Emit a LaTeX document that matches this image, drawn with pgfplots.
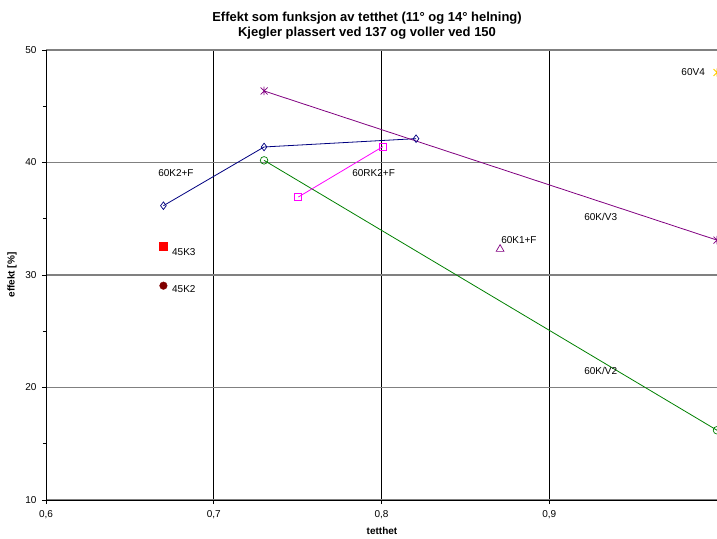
\documentclass[border=0pt]{standalone}
\usepackage{pgfplots}
\pgfplotsset{compat=1.18}
\usepackage{fontspec}
\setmainfont{Liberation Sans}
\definecolor{navyc}{RGB}{0,0,128}
\definecolor{purplec}{RGB}{128,0,128}
\definecolor{greenc}{RGB}{0,128,0}
\definecolor{magc}{RGB}{255,0,255}
\definecolor{redc}{RGB}{255,0,0}
\definecolor{darkredc}{RGB}{128,0,0}
\definecolor{yellowc}{RGB}{255,204,0}
\definecolor{gridgray}{RGB}{128,128,128}
\pgfdeclareplotmark{xstar}{%
  \pgfpathmoveto{\pgfqpoint{-\pgfplotmarksize}{-\pgfplotmarksize}}%
  \pgfpathlineto{\pgfqpoint{\pgfplotmarksize}{\pgfplotmarksize}}%
  \pgfpathmoveto{\pgfqpoint{-\pgfplotmarksize}{\pgfplotmarksize}}%
  \pgfpathlineto{\pgfqpoint{\pgfplotmarksize}{-\pgfplotmarksize}}%
  \pgfpathmoveto{\pgfqpoint{0pt}{-1.2\pgfplotmarksize}}%
  \pgfpathlineto{\pgfqpoint{0pt}{1.2\pgfplotmarksize}}%
  \pgfusepathqstroke}
\begin{document}
\begin{tikzpicture}[x=1pt,y=1pt]
\begin{axis}[
  at={(46pt,38pt)}, anchor=south west,
  scale only axis, width=671pt, height=450pt,
  xmin=0.6, xmax=1.0, ymin=10, ymax=50,
  axis x line=bottom, axis y line=left,
  axis line style={-, black, line width=0.9pt},
  xtick={0.6,0.7,0.8,0.9}, ytick={10,20,30,40,50},
  minor ytick={15,25,35,45},
  tick align=outside,
  major tick length=4pt, minor tick length=3pt,
  tick style={black, line width=0.7pt},
  xmajorgrids, ymajorgrids,
  x grid style={black, line width=0.8pt},
  y grid style={gridgray, line width=1.2pt},
  /pgf/number format/assume math mode=true,
  /pgf/number format/use comma,
  xticklabel style={/pgf/number format/fixed, /pgf/number format/precision=1, /pgf/number format/fixed zerofill, font=\fontsize{10}{12}\selectfont, yshift=-3pt},
  yticklabel style={font=\fontsize{10}{12}\selectfont, xshift=-2pt},
  clip=false,
]
\addplot[navyc, line width=0.8pt, mark=diamond, mark size=3.8pt, mark options={solid, fill=white, line width=0.7pt}]
  coordinates {(0.67,36.16) (0.730,41.38) (0.8206,42.12)};
\addplot[purplec, line width=0.8pt, mark=xstar, mark size=3.5pt, mark options={line width=0.7pt}]
  coordinates {(0.730,46.36) (1.0,33.1)};
\addplot[greenc, line width=0.8pt, mark=o, mark size=3.8pt, mark options={line width=0.7pt}]
  coordinates {(0.730,40.19) (1.0,16.2)};
\addplot[magc, line width=0.8pt, mark=square, mark size=3.5pt, mark options={fill=white, line width=0.7pt}]
  coordinates {(0.7504,36.93) (0.8008,41.41)};
\addplot[only marks, redc, mark=square*, mark size=3.8pt]
  coordinates {(0.67,32.58)};
\addplot[only marks, darkredc, mark=*, mark size=3.8pt]
  coordinates {(0.67,29.05)};
\addplot[only marks, purplec, mark=triangle, mark size=4.5pt, mark options={line width=0.7pt}]
  coordinates {(0.8707,32.3)};
\addplot[only marks, yellowc, mark=xstar, mark size=3.5pt, mark options={line width=0.8pt}]
  coordinates {(1.0,48.0)};
\begin{scope}[every node/.style={font=\fontsize{10}{12}\selectfont, anchor=west, inner sep=0pt}]
\node at (axis cs:0.6668,39.1) {60K2+F};
\node at (axis cs:0.7825,39.1) {60RK2+F};
\node at (axis cs:0.6751,32.0) {45K3};
\node at (axis cs:0.6751,28.75) {45K2};
\node at (axis cs:0.8713,33.1) {60K1+F};
\node at (axis cs:0.9787,48.0) {60V4};
\node at (axis cs:0.9208,35.2) {60K/V3};
\node at (axis cs:0.9208,21.5) {60K/V2};
\end{scope}
\end{axis}
\node[font=\bfseries\fontsize{13}{15.5}\selectfont, align=center] at (367,512.5) {Effekt som funksjon av tetthet (11° og 14° helning)\\Kjegler plassert ved 137 og voller ved 150};
\node[font=\bfseries\fontsize{10}{12}\selectfont] at (382,7) {tetthet};
\node[font=\bfseries\fontsize{10}{12}\selectfont, rotate=90] at (12,263) {effekt [\%]};
\pgfresetboundingbox
\path (0,0) rectangle (717,538);
\end{tikzpicture}
\end{document}
